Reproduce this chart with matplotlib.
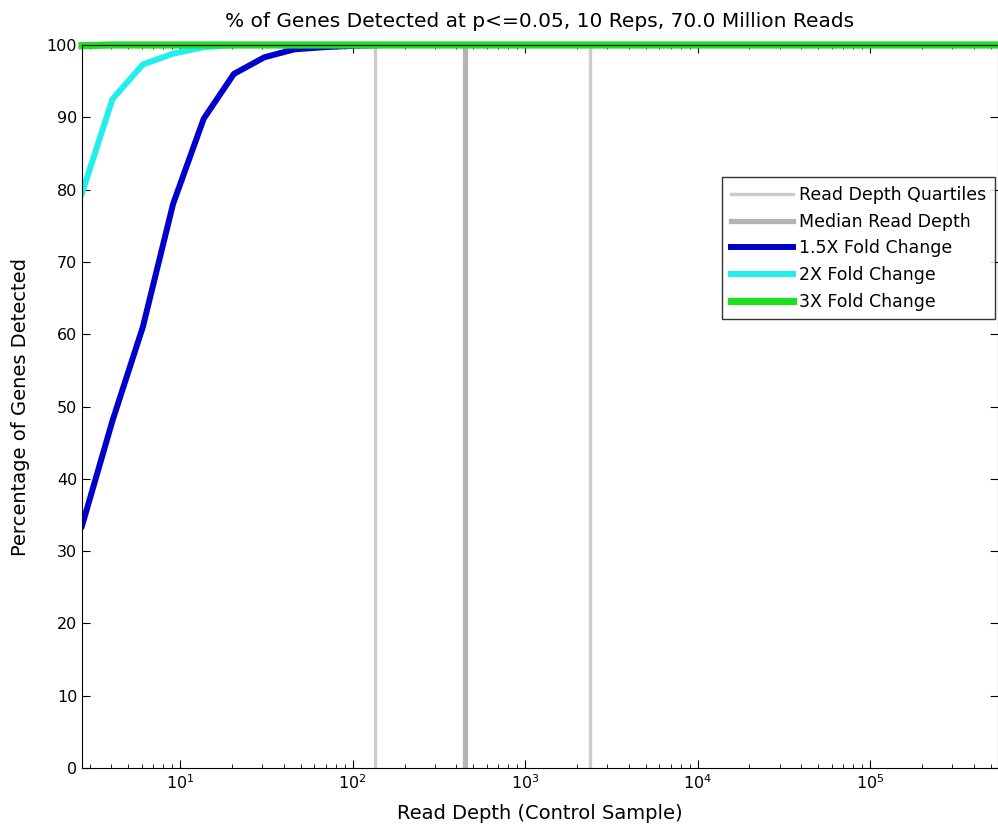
import numpy as np
import matplotlib
matplotlib.use('Agg')
import matplotlib.pyplot as plt
from matplotlib.ticker import LogLocator, NullFormatter

plt.rcParams['font.family'] = ['DejaVu Sans']
plt.rcParams['mathtext.default'] = 'regular'

# read depth points (control sample)
depth = [2.7, 4.05, 6.08, 9.1, 13.7, 20.5, 30.8, 46, 69, 104, 156, 500, 5000, 50000, 560000]
fc15 = [33.5, 48, 61, 78, 89.8, 96, 98.3, 99.4, 99.7, 99.9, 100, 100, 100, 100, 100]
fc2 = [79.5, 92.5, 97.3, 98.8, 99.7, 100, 100, 100, 100, 100, 100, 100, 100, 100, 100]
fc3 = [99.9, 100, 100, 100, 100, 100, 100, 100, 100, 100, 100, 100, 100, 100, 100]

quartiles = [135, 2380]
median = 449

fig = plt.figure(figsize=(9.98, 8.33), dpi=100)
ax = fig.add_axes([0.0822, 0.078, 0.9178, 0.868])

ax.axvline(quartiles[0], color='#cccccc', linewidth=2.4, label='Read Depth Quartiles')
ax.axvline(quartiles[1], color='#cccccc', linewidth=2.4)
ax.axvline(median, color='#b4b4b4', linewidth=3.8, label='Median Read Depth')
ax.plot(depth, fc15, color='#0000cc', linewidth=4.3, label='1.5X Fold Change')
ax.plot(depth, fc2, color='#22eeee', linewidth=4.3, label='2X Fold Change')
ax.plot(depth, fc3, color='#22dd22', linewidth=5.2, label='3X Fold Change', clip_on=False)

ax.set_xscale('log')
ax.set_xlim(2.7, 5.52e5)
ax.set_ylim(0, 100)
ax.set_yticks(np.arange(0, 101, 10))
ax.xaxis.set_major_locator(LogLocator(base=10, numticks=20))
ax.xaxis.set_minor_locator(LogLocator(base=10, subs=np.arange(2, 10), numticks=20))
ax.xaxis.set_minor_formatter(NullFormatter())
ax.tick_params(which='both', direction='in', top=True, right=True, labelsize=11.5)
ax.tick_params(which='major', length=6)
ax.tick_params(which='minor', length=3)

ax.set_title('% of Genes Detected at p<=0.05, 10 Reps, 70.0 Million Reads', fontsize=14.5, pad=13)
ax.set_xlabel('Read Depth (Control Sample)', fontsize=14, labelpad=9)
ax.set_ylabel('Percentage of Genes Detected', fontsize=14, labelpad=12)

leg = ax.legend(loc='upper left', bbox_to_anchor=(0.699, 0.817), fontsize=12.5,
                frameon=True, fancybox=False, edgecolor='black', handlelength=3.6,
                borderpad=0.5, labelspacing=0.5, handletextpad=0.3, borderaxespad=0)
leg.get_frame().set_linewidth(1)

fig.savefig('out.png', dpi=100)
